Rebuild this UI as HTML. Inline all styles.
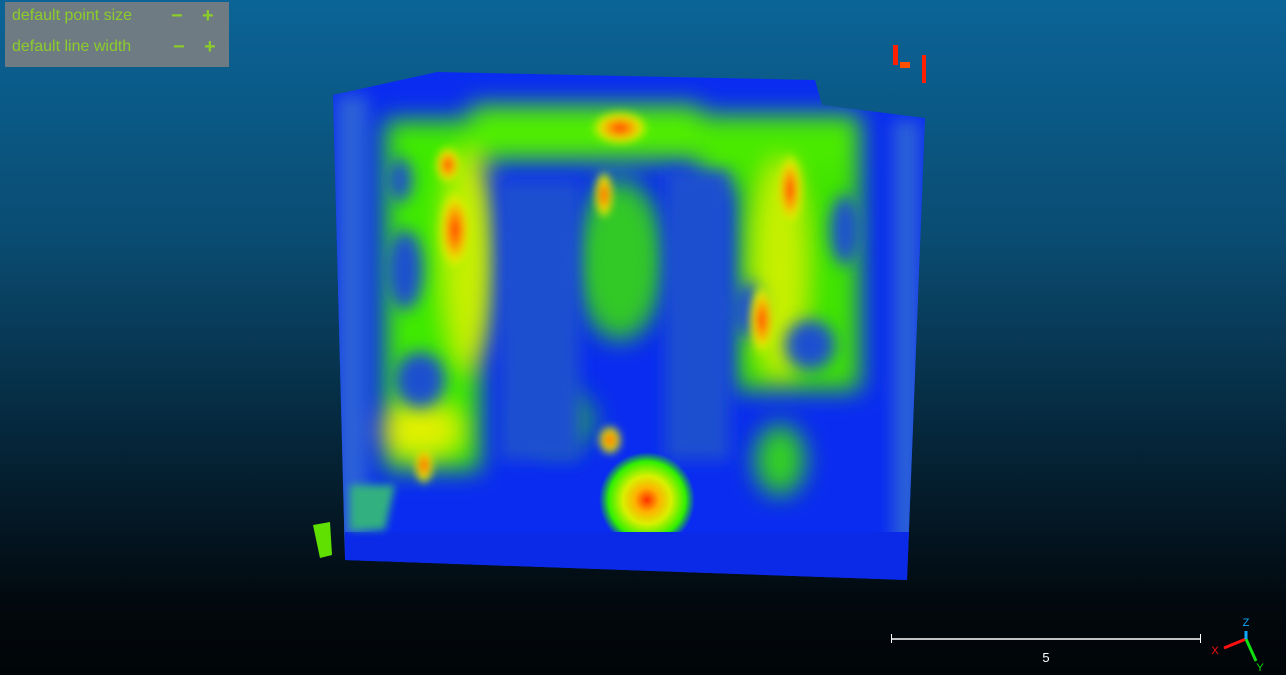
<!DOCTYPE html>
<html><head><meta charset="utf-8"><style>
html,body{margin:0;padding:0;width:1286px;height:675px;overflow:hidden;background:linear-gradient(#0b6497 0%,#0a4c72 35%,#05263a 65%,#02080d 90%,#010508 100%);font-family:"Liberation Sans",sans-serif}
#panel{position:absolute;left:5px;top:2px;width:224px;height:65px;background:#6e7b82}
.row{position:absolute;left:7px;color:#8ccd2a;font-size:16px}
.pm{position:absolute;color:#8ccd2a;font-size:20px;font-weight:bold}
</style></head><body>
<svg width="1286" height="675" style="position:absolute;left:0;top:0">
<defs>
<filter id="b12" x="-50%" y="-50%" width="200%" height="200%"><feGaussianBlur stdDeviation="12"/></filter>
<filter id="b8" x="-50%" y="-50%" width="200%" height="200%"><feGaussianBlur stdDeviation="8"/></filter>
<filter id="b4" x="-50%" y="-50%" width="200%" height="200%"><feGaussianBlur stdDeviation="4"/></filter>
<radialGradient id="spot"><stop offset="0" stop-color="#ff3000"/><stop offset="0.25" stop-color="#ffb000"/><stop offset="0.5" stop-color="#d8f000"/><stop offset="0.8" stop-color="#30f000"/><stop offset="1" stop-color="#20e000" stop-opacity="0"/></radialGradient>
<radialGradient id="hot"><stop offset="0" stop-color="#ff3000"/><stop offset="0.35" stop-color="#ff9000"/><stop offset="0.7" stop-color="#e0f000"/><stop offset="1" stop-color="#80f000" stop-opacity="0"/></radialGradient>
<clipPath id="cl"><polygon points="333,95 437,72 815,80 822,105 925,118 907,580 345,560"/></clipPath>
</defs>
<g>
<polygon points="333,95 437,72 815,80 822,105 925,118 907,580 345,560" fill="#0a2cf0"/>
<g clip-path="url(#cl)">
<rect x="336" y="95" width="32" height="450" fill="#2a60d8" filter="url(#b8)"/>
<rect x="893" y="120" width="27" height="430" fill="#2a60d8" filter="url(#b8)"/>
<g filter="url(#b12)">
<rect x="385" y="120" width="95" height="350" fill="#40ea00"/>
<rect x="470" y="105" width="230" height="55" fill="#50ee00"/>
<rect x="700" y="115" width="160" height="70" fill="#48ea00"/>
<rect x="735" y="170" width="125" height="220" fill="#40e400"/>
<ellipse cx="470" cy="260" rx="25" ry="110" fill="#c8f000"/>
<ellipse cx="780" cy="270" rx="25" ry="110" fill="#c8f000"/>
<ellipse cx="620" cy="260" rx="45" ry="80" fill="#30c828"/>
<ellipse cx="780" cy="460" rx="25" ry="35" fill="#30d020"/>
<ellipse cx="560" cy="420" rx="35" ry="30" fill="#209860"/>
<ellipse cx="420" cy="430" rx="40" ry="25" fill="#e0f000"/>
</g>
<g filter="url(#b8)" fill="#1e50d0">
<ellipse cx="405" cy="270" rx="18" ry="40"/>
<ellipse cx="420" cy="380" rx="25" ry="28"/>
<ellipse cx="400" cy="180" rx="12" ry="22"/>
<ellipse cx="810" cy="345" rx="25" ry="25"/>
<ellipse cx="748" cy="310" rx="14" ry="28"/>
<ellipse cx="845" cy="230" rx="15" ry="35"/>
<rect x="500" y="180" width="80" height="280"/>
<rect x="665" y="170" width="65" height="290"/>
</g>
<g filter="url(#b4)">
<ellipse cx="455" cy="230" rx="18" ry="45" fill="url(#hot)"/>
<ellipse cx="448" cy="165" rx="14" ry="20" fill="url(#hot)"/>
<ellipse cx="790" cy="190" rx="14" ry="40" fill="url(#hot)"/>
<ellipse cx="762" cy="320" rx="14" ry="38" fill="url(#hot)"/>
<ellipse cx="620" cy="128" rx="30" ry="18" fill="url(#hot)"/>
<ellipse cx="604" cy="195" rx="10" ry="25" fill="url(#hot)"/>
<ellipse cx="610" cy="440" rx="12" ry="15" fill="url(#hot)"/>
<ellipse cx="424" cy="465" rx="10" ry="20" fill="url(#hot)"/>
</g>
<circle cx="647" cy="500" r="48" fill="url(#spot)"/>
<rect x="345" y="532" width="565" height="50" fill="#0a2ae8"/>
<polygon points="350,485 395,485 385,530 350,530" fill="#30b080" filter="url(#b4)"/>
</g>
<polygon points="313,525 330,522 332,555 320,558" fill="#60e000"/>
<rect x="893" y="45" width="5" height="20" fill="#ff2000"/>
<rect x="922" y="55" width="4" height="28" fill="#ff2000"/>
<rect x="900" y="62" width="10" height="6" fill="#ff5000"/>
</g>
<g>
<line x1="891" y1="639" x2="1200" y2="639" stroke="#fff" stroke-width="1.5"/>
<line x1="891.5" y1="634" x2="891.5" y2="643" stroke="#fff"/>
<line x1="1200.5" y1="634" x2="1200.5" y2="643" stroke="#fff"/>
<text x="1046" y="662" fill="#fff" font-size="13" text-anchor="middle" font-family="Liberation Sans">5</text>
</g>
<g font-family="Liberation Sans" font-size="11">
<line x1="1246" y1="639" x2="1224" y2="648" stroke="#ff1010" stroke-width="3"/>
<line x1="1246" y1="639" x2="1256" y2="661" stroke="#10e010" stroke-width="3"/>
<line x1="1246" y1="639" x2="1246" y2="631" stroke="#10a8ff" stroke-width="3"/>
<text x="1246" y="626" fill="#10a8ff" text-anchor="middle">Z</text>
<text x="1215" y="654" fill="#ff1010" text-anchor="middle">X</text>
<text x="1260" y="671" fill="#10e010" text-anchor="middle">Y</text>
</g>
</svg>
<div id="panel">
<div class="row" style="top:5px">default point size</div>
<div class="pm" style="left:166px;top:3px">−</div>
<div class="pm" style="left:197px;top:3px">+</div>
<div class="row" style="top:36px">default line width</div>
<div class="pm" style="left:168px;top:34px">−</div>
<div class="pm" style="left:199px;top:34px">+</div>
</div>
</body></html>
